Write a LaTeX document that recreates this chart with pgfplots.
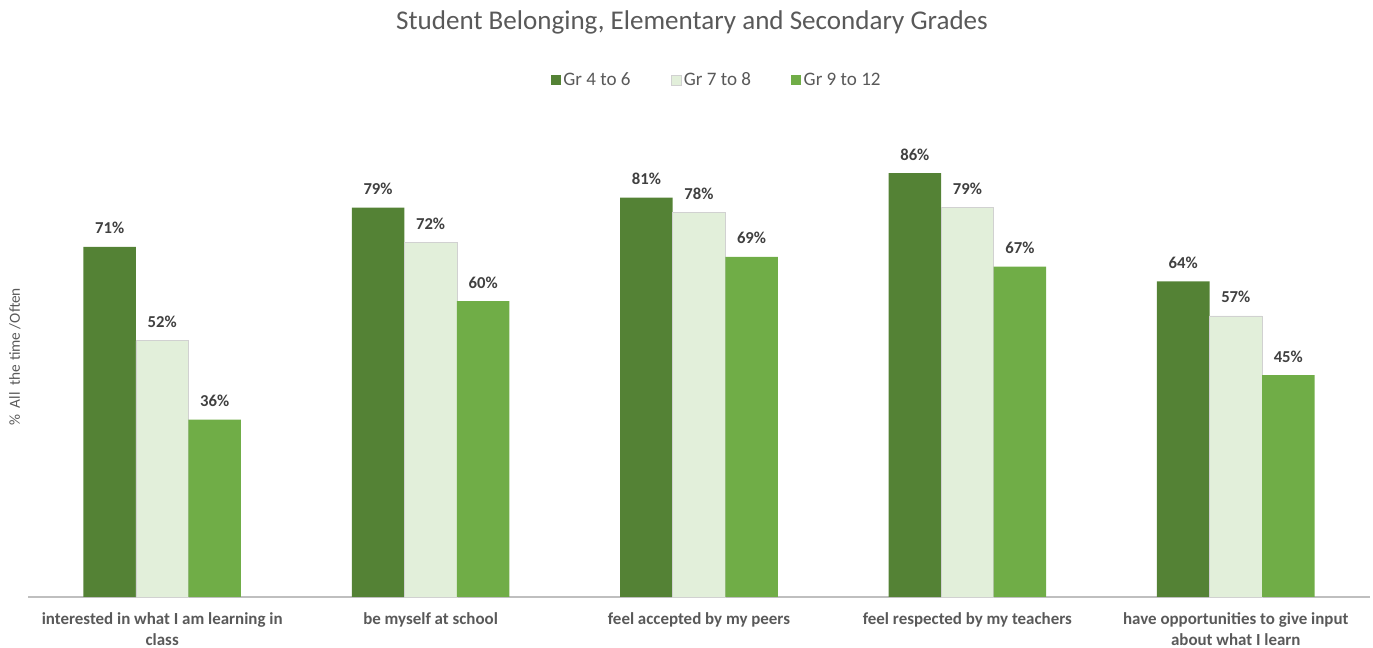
\documentclass[border=0pt]{standalone}
\usepackage{pgfplots}
\pgfplotsset{compat=1.18}
\usepackage{fontspec}
\setmainfont{Carlito}
\definecolor{gA}{HTML}{548235}
\definecolor{gB}{HTML}{E2EFDA}
\definecolor{gC}{HTML}{70AD47}
\definecolor{txt}{HTML}{595959}
\definecolor{lbl}{HTML}{404040}
\begin{document}
\begin{tikzpicture}
\path[use as bounding box] (-21pt,-38.25pt) rectangle (1008.75pt,447.75pt);
\node[font=\fontsize{20.3}{24}\selectfont, text=txt] at (498pt,431.25pt) {Student Belonging, Elementary and Secondary Grades};
\begin{axis}[
  at={(0pt,0pt)}, anchor=south west,
  scale only axis,
  width=1006.5pt, height=369.75pt,
  ybar=0pt, bar width=39.4pt,
  xmin=-0.5, xmax=4.5, ymin=0, ymax=100,
  axis x line*=bottom, hide y axis,
  axis line style={draw=black!25, line width=0.9pt},
  xtick={0,1,2,3,4}, major tick length=0pt,
  xticklabels={{interested in what I am learning in\\class}, be myself at school, feel accepted by my peers, feel respected by my teachers, {have opportunities to give input\\about what I learn}},
  xticklabel style={align=center, font=\bfseries\fontsize{12.7}{15.5}\selectfont, text=txt, yshift=-8.5pt},
  /pgf/number format/assume math mode=true,
  nodes near coords={\pgfmathprintnumber{\pgfplotspointmeta}\%},
  every node near coord/.append style={font=\bfseries\fontsize{12.5}{14}\selectfont, text=lbl, anchor=center, yshift=14pt},
  legend columns=3,
  legend style={at={(0.5134,1.0487)}, anchor=center, draw=none, font=\fontsize{14.3}{16}\selectfont, text=txt,
    /tikz/every even column/.append style={column sep=28pt}},
  legend image code/.code={\fill[#1] (0pt,-3.8pt) rectangle (7.5pt,3.8pt);},
  clip=false,
]
\addplot[fill=gA, draw=none] coordinates {(0,71) (1,79) (2,81) (3,86) (4,64)};
\addplot[fill=gB, draw=black!18, line width=0.5pt] coordinates {(0,52) (1,72) (2,78) (3,79) (4,57)};
\addplot[fill=gC, draw=none] coordinates {(0,36) (1,60) (2,69) (3,67) (4,45)};
\legend{Gr 4 to 6, Gr 7 to 8, Gr 9 to 12}
\end{axis}
\node[rotate=90, font=\fontsize{11.5}{13}\selectfont, text=txt] at (-9.75pt,180pt) {\%~ All~ the time /Often};
\end{tikzpicture}
\end{document}
